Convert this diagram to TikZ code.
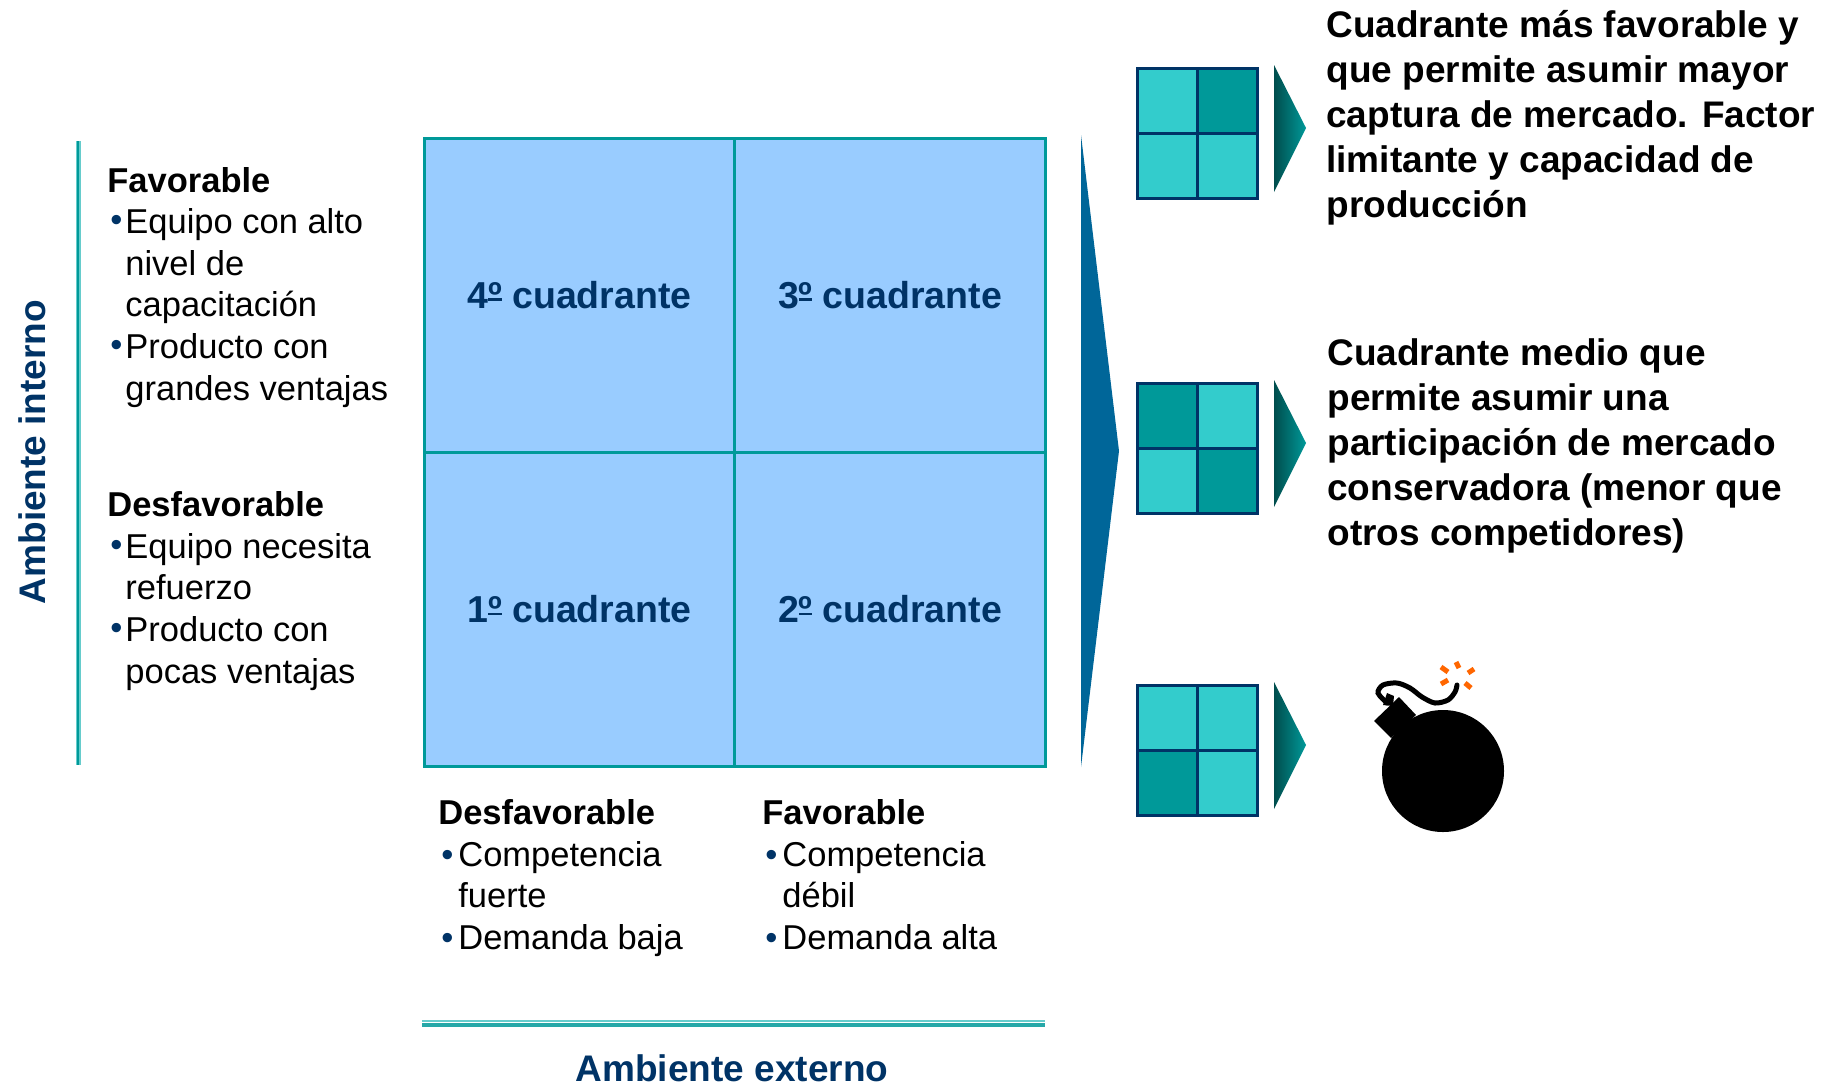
\documentclass[tikz,border=0pt]{standalone}
\usepackage{fontspec}
\setmainfont{Liberation Sans}
\usepackage{xcolor}
\usepackage{tikz}
\usetikzlibrary{positioning}
\definecolor{navy}{HTML}{003366}
\definecolor{quadblue}{HTML}{99CCFF}
\definecolor{gridteal}{HTML}{009999}
\definecolor{paleteal}{HTML}{66CCCC}
\definecolor{celllight}{HTML}{33CCCC}
\definecolor{celldark}{HTML}{009999}
\definecolor{cueblue}{HTML}{006699}
\definecolor{sparkorange}{HTML}{FF6600}
% bullets for the side list and the foot lists
\newcommand{\blt}{\hspace*{1.5pt}\makebox[7.5pt][l]{\raisebox{1pt}{\textcolor{navy}{\textbullet}}}}
\newcommand{\ind}{\hspace*{9pt}}
\newcommand{\bltx}{\hspace*{1.5pt}\makebox[8.5pt][l]{\textcolor{navy}{\textbullet}}}
\newcommand{\indx}{\hspace*{10pt}}
% underlined ordinal sign
\newcommand{\ordo}{\rlap{º}\rule[0.2em]{0.36em}{0.07em}}

\begin{document}
\begin{tikzpicture}[
 x=0.5pt, y=-0.5pt,
 cell/.style={draw=gridteal,line width=1.5pt,fill=quadblue,minimum width=155.5pt,minimum height=157pt,inner sep=0pt,text=navy,font=\fontsize{18.75}{22}\selectfont\bfseries},
 side/.style={anchor=base west,inner sep=0pt,align=left,font=\fontsize{17.25}{20.8}\selectfont},
 foot/.style={anchor=base west,inner sep=0pt,align=left,font=\fontsize{17.25}{20.7}\selectfont},
 note/.style={anchor=base west,inner sep=0pt,align=left,font=\fontsize{18.5}{22.4}\selectfont\bfseries},
 axis/.style={inner sep=0pt,text=navy,font=\fontsize{18.5}{22}\selectfont\bfseries},
 icon/.style={draw=navy,line width=1.5pt},
 cue/.style={left color=black!50!gridteal,right color=gridteal},
]
\useasboundingbox (0,0) rectangle (1837,1088);

% the four quadrants
\node[cell] (q4) at (579.5,295) {4\ordo{} cuadrante};
\node[cell] (q3) at (890,295) {3\ordo{} cuadrante};
\node[cell] (q1) at (579.5,609.5) {1\ordo{} cuadrante};
\node[cell] (q2) at (890,609.5) {2\ordo{} cuadrante};

% axes
\draw[paleteal,line width=2.5pt] (78,141) -- (78,765);
\draw[gridteal,line width=1pt] (78,141) -- (78,765);
\draw[paleteal,line width=1pt] (422,1021) -- (1045,1021);
\draw[gridteal!85,line width=2pt] (422,1025) -- (1045,1025);
\node[axis,rotate=90] (ainterno) at (32,452) {Ambiente interno};
\node[axis] (aexterno) at (732,1068) {Ambiente externo};

% lists (anchored on the baseline of their last line)
\node[side] (favint) at (107,400) {\textbf{Favorable}\\
 \blt Equipo con alto\\ \ind nivel de\\ \ind capacitación\\
 \blt Producto con\\ \ind grandes ventajas};
\node[side] (desint) at (107,683) {\textbf{Desfavorable}\\
 \blt Equipo necesita\\ \ind refuerzo\\
 \blt Producto con\\ \ind pocas ventajas};

\node[foot] (desext) at (438,949) {\textbf{Desfavorable}\\
 \bltx Competencia\\ \indx fuerte\\ \bltx Demanda baja};
\node[foot] (favext) at (762,949) {\textbf{Favorable}\\
 \bltx Competencia\\ \indx débil\\ \bltx Demanda alta};

% big pointer
\fill[cueblue] (1081,135) -- (1119,451) -- (1081,767) -- cycle;

% small quadrant icons
\foreach \t in {68,383,685}
  \fill[celllight] (1137,\t) rectangle +(120,130);
\fill[celldark] (1197,68) rectangle (1257,133);
\fill[celldark] (1137,383) rectangle (1197,448);
\fill[celldark] (1197,448) rectangle (1257,513);
\fill[celldark] (1137,750) rectangle (1197,815);
\foreach \t in {68,383,685} {
  \draw[icon] (1137,\t) rectangle +(120,130);
  \draw[icon] (1197,\t) -- +(0,130) (1137,\t+65) -- +(120,0);
  \shade[cue] (1274,\t-3) -- (1306,\t+60) -- (1274,\t+124) -- cycle;
}

\node[note] (nota1) at (1326,217) {Cuadrante más favorable y\\
 que permite asumir mayor\\ captura de mercado. Factor\\
 limitante y capacidad de\\ producción};
\node[note] (nota2) at (1327,545) {Cuadrante medio que\\
 permite asumir una\\ participación de mercado\\
 conservadora (menor que\\ otros competidores)};

% bomb
\fill (1443,771) circle[radius=61];
\fill (1399,697) -- (1374,721) -- (1391,738) -- (1416,715) -- cycle;
\fill (1383,705) -- (1387,693) -- (1394,696) -- (1393,706) -- cycle;
\draw[line width=2.5pt,line cap=round] plot[smooth] coordinates {(1387,703) (1378,693) (1383,685) (1397,683) (1410,688) (1422,697) (1435,703) (1448,700) (1455,692) (1457,685)};
\draw[sparkorange,line width=2.5pt]
  (1441,667) -- (1448,672) (1456,662) -- (1459,668) (1474,669) -- (1468,673)
  (1441,684) -- (1448,680) (1471,688) -- (1465,683);
\end{tikzpicture}
\end{document}
